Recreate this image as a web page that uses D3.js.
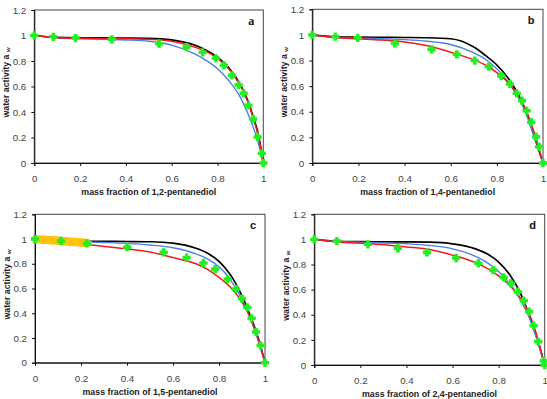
<!DOCTYPE html>
<html>
<head>
<meta charset="utf-8">
<script src="https://cdn.jsdelivr.net/npm/d3@7"></script>
<style>
  html, body { margin: 0; padding: 0; background: #fff; }
  svg { display: block; font-family: "Liberation Sans", Arial, sans-serif; }
</style>
</head>
<body>
<svg id="chart" width="547" height="399"></svg>
<script>
// shared x positions of the model curves
const curveX = [0, 0.1, 0.2, 0.3, 0.4, 0.5, 0.6, 0.7, 0.75, 0.8, 0.85, 0.9, 0.93, 0.96, 0.98, 1];

// panel a : 1,2-pentanediol
const blackA = [1, 0.985, 0.982, 0.981, 0.98, 0.978, 0.965, 0.925, 0.885, 0.83, 0.745, 0.615, 0.5, 0.34, 0.21, 0];
const redA   = [1, 0.983, 0.978, 0.976, 0.975, 0.97, 0.955, 0.91, 0.875, 0.82, 0.735, 0.605, 0.49, 0.33, 0.2, 0];
const blueA  = [1, 0.982, 0.975, 0.97, 0.965, 0.955, 0.925, 0.855, 0.805, 0.74, 0.645, 0.515, 0.4, 0.26, 0.145, 0];
const greenA = [[0, 1], [0.083, 0.99], [0.18, 0.98], [0.339, 0.97], [0.545, 0.936], [0.665, 0.91], [0.735, 0.868],
  [0.793, 0.821], [0.828, 0.766], [0.863, 0.688], [0.892, 0.612], [0.914, 0.547], [0.935, 0.452], [0.956, 0.345],
  [0.975, 0.204], [0.993, 0.076], [1, 0]];

// panel b : 1,4-pentanediol
const blackB = [1, 0.985, 0.982, 0.981, 0.98, 0.978, 0.97, 0.905, 0.84, 0.765, 0.66, 0.51, 0.38, 0.22, 0.11, 0];
const redB   = [1, 0.98, 0.97, 0.96, 0.945, 0.915, 0.865, 0.805, 0.765, 0.705, 0.625, 0.505, 0.4, 0.25, 0.13, 0];
const blueB  = [1, 0.98, 0.975, 0.97, 0.963, 0.95, 0.925, 0.86, 0.81, 0.735, 0.63, 0.49, 0.37, 0.22, 0.12, 0];
const greenB = [[0, 1], [0.1, 0.986], [0.197, 0.977], [0.358, 0.934], [0.517, 0.887], [0.626, 0.848], [0.704, 0.8],
  [0.765, 0.752], [0.819, 0.679], [0.857, 0.617], [0.886, 0.544], [0.909, 0.487], [0.929, 0.408], [0.949, 0.318],
  [0.97, 0.205], [0.983, 0.127], [1, 0]];

// panel c : 1,5-pentanediol
const blackC = [1, 0.985, 0.982, 0.981, 0.98, 0.978, 0.967, 0.925, 0.885, 0.82, 0.71, 0.54, 0.41, 0.26, 0.14, 0];
const redC   = [1, 0.975, 0.96, 0.94, 0.92, 0.895, 0.85, 0.8, 0.755, 0.69, 0.61, 0.49, 0.39, 0.25, 0.13, 0];
const blueC  = [1, 0.982, 0.977, 0.972, 0.965, 0.952, 0.93, 0.88, 0.84, 0.775, 0.67, 0.51, 0.385, 0.235, 0.12, 0];
const greenC = [[0, 1], [0.113, 0.984], [0.225, 0.965], [0.401, 0.935], [0.559, 0.892], [0.659, 0.849], [0.732, 0.806],
  [0.783, 0.757], [0.838, 0.677], [0.874, 0.596], [0.9, 0.518], [0.923, 0.448], [0.942, 0.359], [0.961, 0.248],
  [0.981, 0.14], [1, 0]];
const yellowC = [[0, 1], [0.01, 0.999], [0.02, 0.997], [0.03, 0.996], [0.04, 0.995], [0.05, 0.993], [0.06, 0.992],
  [0.07, 0.99], [0.08, 0.989], [0.09, 0.988], [0.1, 0.986], [0.11, 0.985], [0.12, 0.983], [0.13, 0.982],
  [0.14, 0.981], [0.15, 0.979], [0.16, 0.978], [0.17, 0.976], [0.18, 0.975], [0.19, 0.973], [0.2, 0.972],
  [0.21, 0.97], [0.22, 0.969], [0.23, 0.967]];

// panel d : 2,4-pentanediol
const blackD = [1, 0.985, 0.982, 0.981, 0.98, 0.978, 0.965, 0.925, 0.885, 0.82, 0.715, 0.55, 0.41, 0.25, 0.13, 0];
const redD   = [1, 0.98, 0.97, 0.958, 0.94, 0.92, 0.875, 0.815, 0.77, 0.71, 0.63, 0.52, 0.42, 0.27, 0.14, 0];
const blueD  = [1, 0.983, 0.978, 0.972, 0.965, 0.952, 0.925, 0.865, 0.815, 0.745, 0.645, 0.5, 0.39, 0.24, 0.12, 0];
const greenD = [[0, 1], [0.098, 0.987], [0.233, 0.961], [0.363, 0.929], [0.489, 0.897], [0.616, 0.852], [0.712, 0.81],
  [0.776, 0.756], [0.822, 0.698], [0.853, 0.65], [0.883, 0.584], [0.909, 0.512], [0.932, 0.425], [0.952, 0.313],
  [0.972, 0.186], [0.996, 0.034], [1, 0]];

const panelLetters = ["a", "b", "c", "d"];
const diolNames = ["1,2-pentanediol", "1,4-pentanediol", "1,5-pentanediol", "2,4-pentanediol"];
const xTicks = [0, 0.2, 0.4, 0.6, 0.8, 1];
const yTicks = [0, 0.2, 0.4, 0.6, 0.8, 1, 1.2];

const panels = [
  { box: [34.3, 263.3, 10, 163], black: blackA, red: redA, blue: blueA, green: greenA, yellow: [], serif: true },
  { box: [312.3, 543, 9.3, 163], black: blackB, red: redB, blue: blueB, green: greenB, yellow: [] },
  { box: [35, 265, 214.3, 362.7], black: blackC, red: redC, blue: blueC, green: greenC, yellow: yellowC },
  { box: [314.3, 544.7, 214.3, 365], black: blackD, red: redD, blue: blueD, green: greenD, yellow: [] }
];

const svg = d3.select("#chart");
const marker = d3.symbol().type(d3.symbolCross).size(28);

panels.forEach((p, i) => {
  const [l, r, t, b] = p.box;
  const x = d3.scaleLinear().domain([0, 1]).range([l, r]);
  const y = d3.scaleLinear().domain([0, 1.2]).range([b, t]);
  const g = svg.append("g");

  g.append("rect")
    .attr("x", l).attr("y", t).attr("width", r - l).attr("height", b - t)
    .attr("fill", "none").attr("stroke", "#444").attr("stroke-width", 1);

  const xAxis = g.append("g").attr("transform", `translate(0,${b})`)
    .call(d3.axisBottom(x).tickValues(xTicks).tickSize(3).tickPadding(9).tickFormat(d3.format("")));
  const yAxis = g.append("g").attr("transform", `translate(${l},0)`)
    .call(d3.axisLeft(y).tickValues(yTicks).tickSize(3).tickPadding(5).tickFormat(d3.format("")));
  [xAxis, yAxis].forEach((ax) => {
    ax.select(".domain").attr("stroke", "#111");
    ax.selectAll(".tick line").attr("stroke", "#111");
    ax.selectAll("text").attr("fill", "#444").attr("font-size", 9.8)
      .attr("font-family", "'Liberation Sans', Arial, sans-serif");
  });

  const line = d3.line().x((d) => x(d[0])).y((d) => y(d[1])).curve(d3.curveMonotoneX);
  [["black", "#000", 1.7], ["blue", "#4b7fe6", 1.4], ["red", "#ee1c1c", 1.5]].forEach(([key, col, w]) => {
    g.append("path")
      .datum(curveX.map((cx, k) => [cx, p[key][k]]))
      .attr("d", line).attr("fill", "none").attr("stroke", col).attr("stroke-width", w);
  });

  g.selectAll(".yel").data(p.yellow).enter().append("path")
    .attr("transform", (d) => `translate(${x(d[0])},${y(d[1])})`)
    .attr("d", marker).attr("fill", "#ffc20e").attr("stroke", "#ffc20e")
    .attr("stroke-width", 1.2).attr("stroke-linejoin", "round");

  g.selectAll(".grn").data(p.green).enter().append("path")
    .attr("transform", (d) => `translate(${x(d[0])},${y(d[1])})`)
    .attr("d", marker).attr("fill", "#22ee22").attr("stroke", "#22ee22")
    .attr("stroke-width", 1.2).attr("stroke-linejoin", "round");

  g.append("text")
    .attr("x", (l + r) / 2).attr("y", b + 32)
    .attr("text-anchor", "middle").attr("font-size", 8.8).attr("font-weight", "bold").attr("fill", "#222")
    .text(`mass fraction of ${diolNames[i]}`);

  const yt = g.append("text")
    .attr("transform", `translate(${l - 25},${(t + b) / 2 - 4}) rotate(-90)`)
    .attr("text-anchor", "middle").attr("font-size", 8.8).attr("font-weight", "bold").attr("fill", "#222");
  yt.append("tspan").text("water activity a  ");
  yt.append("tspan").attr("font-size", 6).attr("dy", 1).text("w");

  g.append("text")
    .attr("x", r - 12).attr("y", t + 15)
    .attr("text-anchor", "middle").attr("font-size", p.serif ? 12 : 11).attr("font-weight", "bold")
    .attr("font-family", p.serif ? "'Liberation Serif', serif" : "'Liberation Sans', Arial, sans-serif")
    .attr("fill", "#111")
    .text(panelLetters[i]);
});
</script>
</body>
</html>
